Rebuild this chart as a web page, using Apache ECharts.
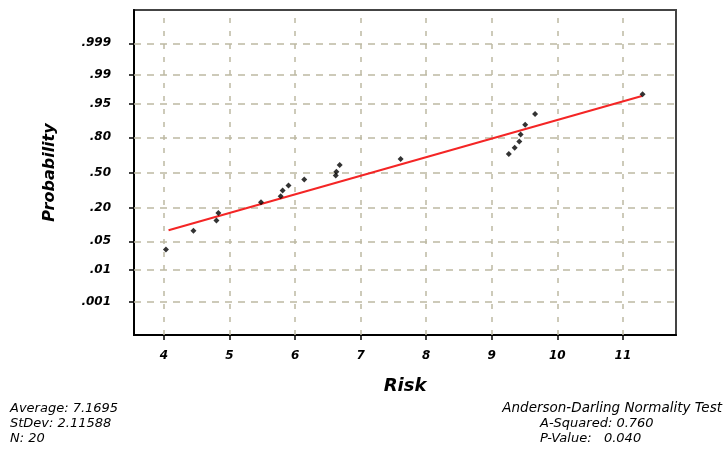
<!DOCTYPE html>
<html>
<head>
<meta charset="utf-8">
<script src="https://cdn.jsdelivr.net/npm/echarts@6/dist/echarts.min.js"></script>
<style>
html,body{margin:0;padding:0;background:#fff;}
#chart{width:724px;height:456px;}
</style>
</head>
<body>
<div id="chart"></div>
<script>
// Risk values (x) and normal scores (z)
var riskValues = [4.03, 4.45, 4.80, 4.83, 5.48, 5.78, 5.81, 5.90, 6.14, 6.62, 6.63, 6.68, 7.61, 9.26, 9.35, 9.42, 9.44, 9.51, 9.66, 11.30];
var normalScores = [-1.84, -1.39, -1.15, -0.97, -0.71, -0.57, -0.43, -0.31, -0.17, -0.07, 0.02, 0.18, 0.32, 0.44, 0.59, 0.74, 0.91, 1.14, 1.40, 1.87];
// fitted line endpoints
var fitX = [4.07, 11.29];
var fitZ = [-1.38, 1.83];
// probability tick labels and their normal-score positions
var probLabels = ['.001', '.01', '.05', '.20', '.50', '.80', '.95', '.99', '.999'];
var probZ = [-3.09, -2.326, -1.645, -0.842, 0, 0.842, 1.645, 2.326, 3.09];
var xTicks = [4, 5, 6, 7, 8, 9, 10, 11];
var statsLeft = ['Average: 7.1695', 'StDev: 2.11588', 'N: 20'];
var statsRight = ['Anderson-Darling Normality Test', 'A-Squared: 0.760', 'P-Value:   0.040'];

var chart = echarts.init(document.getElementById('chart'));
var pts = riskValues.map(function (x, i) { return [x, normalScores[i]]; });
var fit = fitX.map(function (x, i) { return [x, fitZ[i]]; });
var gridColor = '#bdb9a3';
var markData = [];
xTicks.forEach(function (v) { markData.push({ xAxis: v, lineStyle: { type: [5, 8] } }); });
probZ.forEach(function (v) { markData.push({ yAxis: v, lineStyle: { type: [7, 6] } }); });

var font = 'DejaVu Sans, sans-serif';
var option = {
  animation: false,
  backgroundColor: '#fff',
  grid: { left: 134, top: 10, right: 48, bottom: 121, show: true, borderColor: '#444', borderWidth: 2, backgroundColor: 'transparent' },
  xAxis: {
    type: 'value', min: 3.543, max: 11.81,
    name: 'Risk', nameLocation: 'middle', nameGap: 42,
    nameTextStyle: { fontFamily: font, fontSize: 18, fontWeight: 'bold', fontStyle: 'italic', color: '#000' },
    axisLine: { show: true, onZero: false, lineStyle: { color: '#000', width: 2 } },
    axisTick: { show: true, customValues: xTicks, length: 5, lineStyle: { color: '#000', width: 1.5 } },
    axisLabel: { customValues: xTicks, margin: 15, fontFamily: font, fontSize: 12, fontWeight: 'bold', fontStyle: 'italic', color: '#000' },
    splitLine: { show: false }
  },
  yAxis: {
    type: 'value', min: -3.886, max: 3.886,
    name: 'Probability', nameLocation: 'middle', nameGap: 76,
    nameTextStyle: { fontFamily: font, fontSize: 16, fontWeight: 'bold', fontStyle: 'italic', color: '#000' },
    axisLine: { show: true, onZero: false, lineStyle: { color: '#000', width: 2 } },
    axisTick: { show: true, customValues: probZ, length: 5, lineStyle: { color: '#000', width: 1.5 } },
    axisLabel: {
      customValues: probZ, margin: 23, fontFamily: font, fontSize: 12, fontWeight: 'bold', fontStyle: 'italic', color: '#000',
      formatter: function (v) {
        for (var i = 0; i < probZ.length; i++) { if (Math.abs(probZ[i] - v) < 1e-6) return probLabels[i]; }
        return '';
      }
    },
    splitLine: { show: false }
  },
  series: [
    {
      type: 'line', data: fit, symbol: 'none', silent: true,
      lineStyle: { color: '#f42525', width: 2 }, z: 3,
      markLine: {
        silent: true, symbol: 'none', label: { show: false },
        lineStyle: { color: gridColor, width: 1.5 },
        data: markData, z: 1
      }
    },
    {
      type: 'scatter', data: pts, symbol: 'diamond', symbolSize: 6,
      itemStyle: { color: '#000' }, z: 4
    }
  ],
  graphic: [
    { type: 'text', left: 10, top: 401, style: { text: statsLeft.join('\n'), fontFamily: font, fontSize: 13, fontStyle: 'italic', fill: '#000', lineHeight: 15 } },
    { type: 'text', right: 2, top: 401, style: { text: statsRight[0], fontFamily: font, fontSize: 13.5, fontStyle: 'italic', fill: '#000', lineHeight: 15 } },
    { type: 'text', left: 540, top: 416, style: { text: statsRight[1] + '\n' + statsRight[2], fontFamily: font, fontSize: 13, fontStyle: 'italic', fill: '#000', lineHeight: 15 } }
  ]
};
chart.setOption(option);
</script>
</body>
</html>
